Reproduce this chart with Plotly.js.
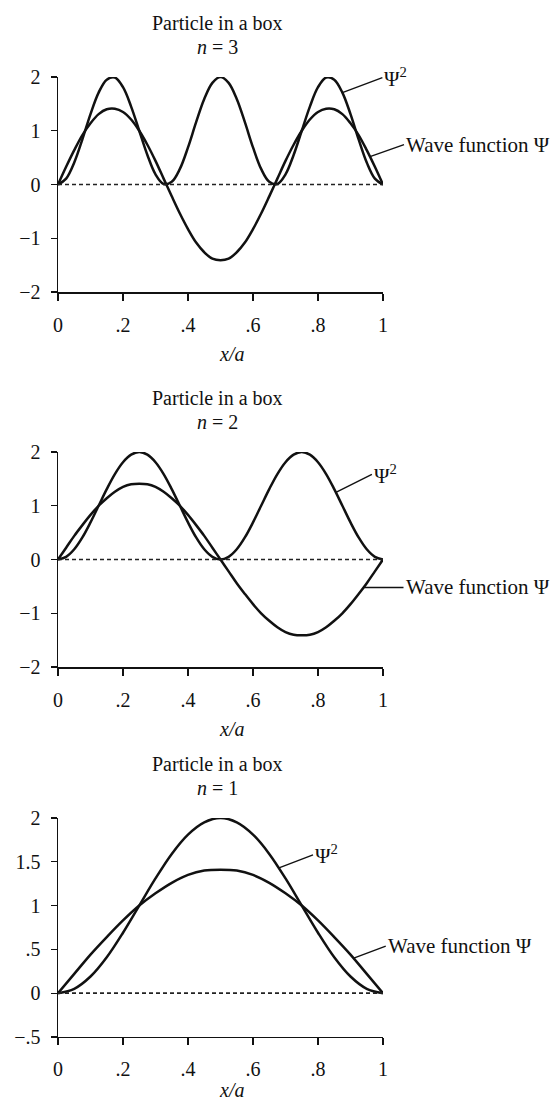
<!DOCTYPE html>
<html>
<head>
<meta charset="utf-8">
<script src="https://cdn.plot.ly/plotly-3.0.1.min.js"></script>
<style>
  html, body { margin: 0; padding: 0; background: #fff; }
  #chart { width: 559px; height: 1100px; }
</style>
</head>
<body>
<div id="chart"></div>
<script>
// Particle in a box: wave function and probability density for n = 3, 2, 1

const xFine = [0, 0.025, 0.05, 0.075, 0.1, 0.125, 0.15, 0.175, 0.2, 0.225,
  0.25, 0.275, 0.3, 0.325, 0.35, 0.375, 0.4, 0.425, 0.45, 0.475,
  0.5, 0.525, 0.55, 0.575, 0.6, 0.625, 0.65, 0.675, 0.7, 0.725,
  0.75, 0.775, 0.8, 0.825, 0.85, 0.875, 0.9, 0.925, 0.95, 0.975, 1];

const xCoarse = [0, 0.05, 0.1, 0.15, 0.2, 0.25, 0.3, 0.35, 0.4, 0.45, 0.5,
  0.55, 0.6, 0.65, 0.7, 0.75, 0.8, 0.85, 0.9, 0.95, 1];

// n = 3
const psiN3 = [0, 0.33, 0.64, 0.92, 1.14, 1.31, 1.40, 1.41, 1.35, 1.21,
  1.00, 0.74, 0.44, 0.11, -0.22, -0.54, -0.83, -1.08, -1.26, -1.38,
  -1.41, -1.38, -1.26, -1.08, -0.83, -0.54, -0.22, 0.11, 0.44, 0.74,
  1.00, 1.21, 1.35, 1.41, 1.40, 1.31, 1.14, 0.92, 0.64, 0.33, 0];
const psiSqN3 = [0, 0.11, 0.41, 0.84, 1.31, 1.71, 1.95, 1.99, 1.81, 1.45,
  1.00, 0.55, 0.19, 0.01, 0.05, 0.29, 0.69, 1.16, 1.59, 1.89,
  2.00, 1.89, 1.59, 1.16, 0.69, 0.29, 0.05, 0.01, 0.19, 0.55,
  1.00, 1.45, 1.81, 1.99, 1.95, 1.71, 1.31, 0.84, 0.41, 0.11, 0];

// n = 2
const psiN2 = [0, 0.22, 0.44, 0.64, 0.83, 1.00, 1.14, 1.26, 1.35, 1.40,
  1.41, 1.40, 1.35, 1.26, 1.14, 1.00, 0.83, 0.64, 0.44, 0.22,
  0, -0.22, -0.44, -0.64, -0.83, -1.00, -1.14, -1.26, -1.35, -1.40,
  -1.41, -1.40, -1.35, -1.26, -1.14, -1.00, -0.83, -0.64, -0.44, -0.22, 0];
const psiSqN2 = [0, 0.05, 0.19, 0.41, 0.69, 1.00, 1.31, 1.59, 1.81, 1.95,
  2.00, 1.95, 1.81, 1.59, 1.31, 1.00, 0.69, 0.41, 0.19, 0.05,
  0, 0.05, 0.19, 0.41, 0.69, 1.00, 1.31, 1.59, 1.81, 1.95,
  2.00, 1.95, 1.81, 1.59, 1.31, 1.00, 0.69, 0.41, 0.19, 0.05, 0];

// n = 1
const psiN1 = [0, 0.22, 0.44, 0.64, 0.83, 1.00, 1.14, 1.26, 1.35, 1.40,
  1.41, 1.40, 1.35, 1.26, 1.14, 1.00, 0.83, 0.64, 0.44, 0.22, 0];
const psiSqN1 = [0, 0.05, 0.19, 0.41, 0.69, 1.00, 1.31, 1.59, 1.81, 1.95,
  2.00, 1.95, 1.81, 1.59, 1.31, 1.00, 0.69, 0.41, 0.19, 0.05, 0];

const xTickVals = [0, 0.2, 0.4, 0.6, 0.8, 1];
const xTickText = ['0', '.2', '.4', '.6', '.8', '1'];
const yTickValsWide = [-2, -1, 0, 1, 2];
const yTickTextWide = ['\u22122', '\u22121', '0', '1', '2'];
const yTickValsN1 = [-0.5, 0, 0.5, 1, 1.5, 2];
const yTickTextN1 = ['\u2212.5', '0', '.5', '1', '1.5', '2'];

const panelTitles = ['<i>n</i> = 3', '<i>n</i> = 2', '<i>n</i> = 1'];
const titleLine = 'Particle in a box';
const psiLabel = 'Wave function \u03A8';
const psiSqLabel = '\u03A8<sup>2</sup>';
const axisLabel = '<i>x/a</i>';

const FONT = 'Liberation Serif, Times New Roman, serif';
const INK = '#111';

function curve(x, y, xa, ya) {
  return {
    x: x, y: y, xaxis: xa, yaxis: ya, type: 'scatter', mode: 'lines',
    line: { color: INK, width: 2.5, shape: 'spline', smoothing: 1 },
    hoverinfo: 'skip', showlegend: false
  };
}

const data = [
  curve(xFine, psiN3, 'x', 'y'),
  curve(xFine, psiSqN3, 'x', 'y'),
  curve(xFine, psiN2, 'x2', 'y2'),
  curve(xFine, psiSqN2, 'x2', 'y2'),
  curve(xCoarse, psiN1, 'x3', 'y3'),
  curve(xCoarse, psiSqN1, 'x3', 'y3')
];

function xAxis(anchor) {
  return {
    anchor: anchor, domain: [0, 1], range: [0, 1],
    showgrid: false, zeroline: false,
    showline: true, linecolor: INK, linewidth: 1.5,
    ticks: 'outside', ticklen: 7, tickwidth: 1.3, tickcolor: INK,
    tickvals: xTickVals, ticktext: xTickText,
    ticklabelstandoff: 7,
    tickfont: { family: FONT, size: 20, color: INK }
  };
}

function yAxis(anchor, domain, range, vals, text) {
  return {
    anchor: anchor, domain: domain, range: range,
    showgrid: false, zeroline: false,
    showline: true, linecolor: INK, linewidth: 1.5,
    ticks: 'outside', ticklen: 6, tickwidth: 1.3, tickcolor: INK,
    tickvals: vals, ticktext: text,
    ticklabelstandoff: 6,
    tickfont: { family: FONT, size: 20, color: INK }
  };
}

const domains = [[0.7345, 0.93], [0.3936, 0.5891], [0.0573, 0.2564]];
const yRefs = ['y', 'y2', 'y3'];
const xRefs = ['x', 'x2', 'x3'];
const axisLabelShift = [-62, -62, -53];

const annotations = [];
const shapes = [];

for (let i = 0; i < 3; i++) {
  const yd = yRefs[i] + ' domain';
  const xd = xRefs[i] + ' domain';
  annotations.push({
    xref: xd, yref: yd, x: 0.49, y: 1, yanchor: 'middle', yshift: 30 + 24,
    text: titleLine, showarrow: false,
    font: { family: FONT, size: 20, color: INK }
  });
  annotations.push({
    xref: xd, yref: yd, x: 0.49, y: 1, yanchor: 'middle', yshift: 30,
    text: panelTitles[i], showarrow: false,
    font: { family: FONT, size: 20, color: INK }
  });
  annotations.push({
    xref: xd, yref: yd, x: 0.535, y: 0, yanchor: 'middle', yshift: axisLabelShift[i],
    text: axisLabel, showarrow: false,
    font: { family: FONT, size: 20, color: INK }
  });
  // dashed zero baseline
  shapes.push({
    type: 'line', xref: xd, x0: 0, x1: 1, yref: yRefs[i], y0: 0, y1: 0,
    line: { color: '#222', width: 1.6, dash: '4px,3px' }
  });
}

// callout labels pointing at the curves
function callout(xr, yr, x, y, ax, ay, text) {
  return {
    xref: xr, yref: yr, x: x, y: y, ax: ax, ay: ay,
    text: text, showarrow: true, arrowhead: 0, arrowwidth: 1.4,
    arrowcolor: INK, standoff: 0, startstandoff: 0,
    xanchor: 'left', yanchor: 'middle',
    font: { family: FONT, size: 21, color: INK }
  };
}

annotations.push(callout('x', 'y', 0.875, 1.71, 40, -15, psiSqLabel));
annotations.push(callout('x', 'y', 0.96, 0.52, 34, -12, psiLabel));
annotations.push(callout('x2', 'y2', 0.855, 1.25, 36, -18, psiSqLabel));
annotations.push(callout('x2', 'y2', 0.94, -0.52, 40, 0, psiLabel));
annotations.push(callout('x3', 'y3', 0.68, 1.43, 34, -13, psiSqLabel));
annotations.push(callout('x3', 'y3', 0.91, 0.40, 32, -12, psiLabel));

const layout = {
  width: 559, height: 1100,
  margin: { l: 58, r: 176, t: 0, b: 0 },
  paper_bgcolor: '#fff', plot_bgcolor: '#fff',
  showlegend: false,
  font: { family: FONT, size: 20, color: INK },
  xaxis: xAxis('y'),
  xaxis2: xAxis('y2'),
  xaxis3: xAxis('y3'),
  yaxis: yAxis('x', domains[0], [-2, 2], yTickValsWide, yTickTextWide),
  yaxis2: yAxis('x2', domains[1], [-2, 2], yTickValsWide, yTickTextWide),
  yaxis3: yAxis('x3', domains[2], [-0.5, 2], yTickValsN1, yTickTextN1),
  annotations: annotations,
  shapes: shapes
};

Plotly.newPlot('chart', data, layout, { displayModeBar: false, staticPlot: true });
</script>
</body>
</html>
